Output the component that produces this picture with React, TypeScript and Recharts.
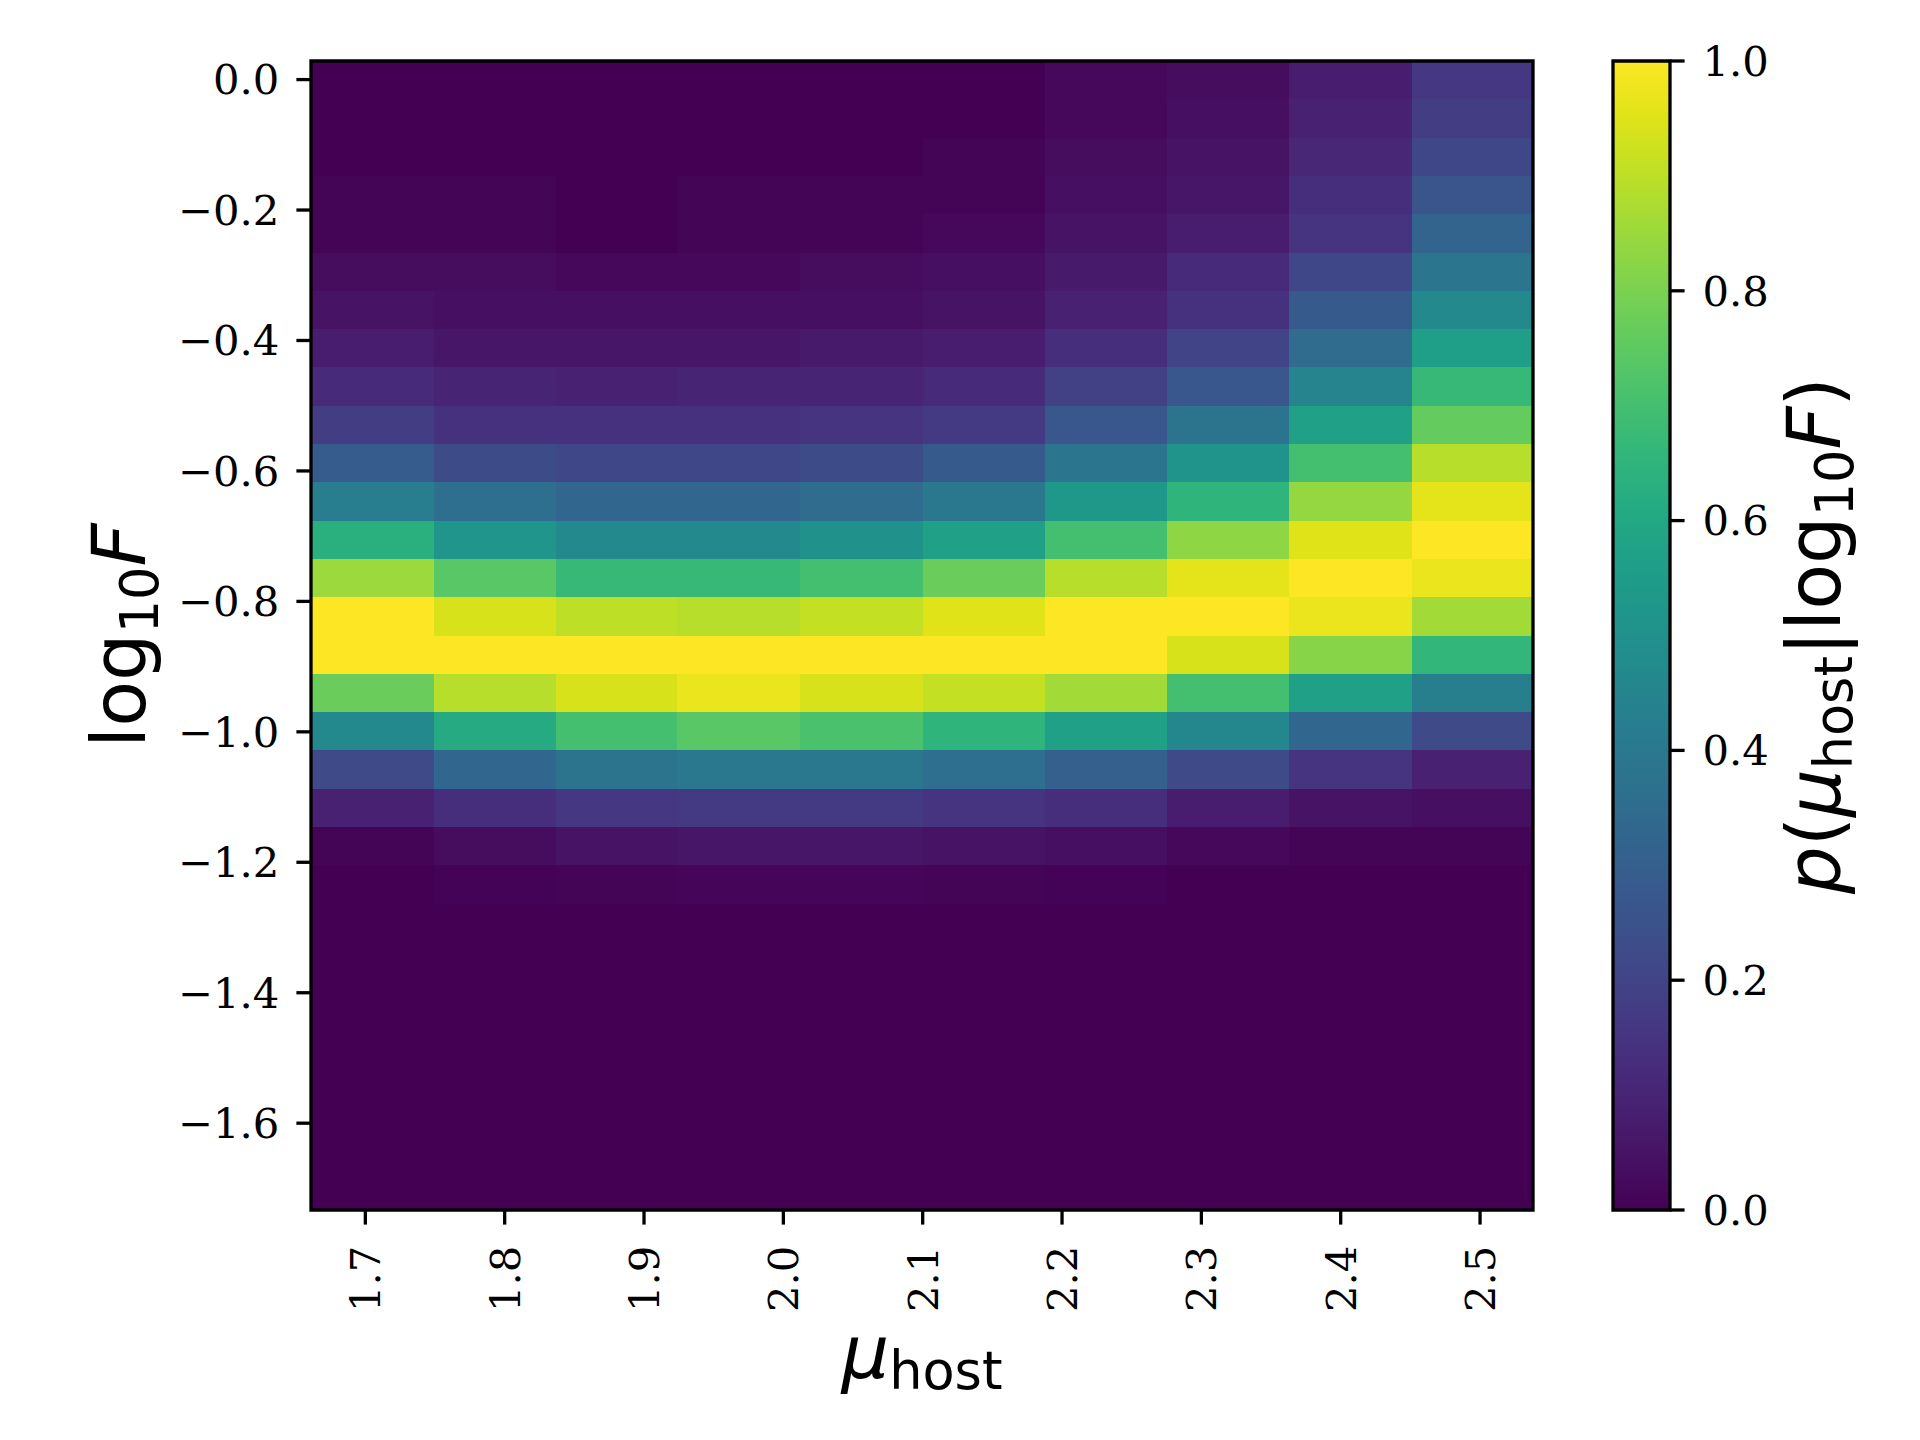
import { ScatterChart, Scatter, XAxis, YAxis, ReferenceArea } from "recharts";

// bin edges
const muEdges = [1.661, 1.749, 1.837, 1.924, 2.012, 2.1, 2.188, 2.275, 2.363, 2.451, 2.538];
const logFEdges = [
  0.0285, -0.0302, -0.0889, -0.1477, -0.2064, -0.2651, -0.3238, -0.3825, -0.4413, -0.5,
  -0.5587, -0.6174, -0.6761, -0.7349, -0.7936, -0.8523, -0.911, -0.9697, -1.0285, -1.0872,
  -1.1459, -1.2046, -1.2633, -1.3221, -1.3808, -1.4395, -1.4982, -1.5569, -1.6157, -1.6744,
  -1.7331,
];

// p(mu_host | log10 F), rows from top (highest log10F) to bottom
const density = [
  [0.0, 0.0, 0.0, 0.0, 0.0, 0.0, 0.02, 0.03, 0.08, 0.16],
  [0.0, 0.0, 0.0, 0.0, 0.0, 0.0, 0.02, 0.04, 0.09, 0.18],
  [0.0, 0.0, 0.0, 0.0, 0.0, 0.01, 0.03, 0.05, 0.11, 0.21],
  [0.01, 0.01, 0.0, 0.01, 0.01, 0.01, 0.04, 0.06, 0.13, 0.26],
  [0.01, 0.01, 0.0, 0.01, 0.01, 0.02, 0.05, 0.08, 0.15, 0.32],
  [0.03, 0.03, 0.02, 0.02, 0.03, 0.04, 0.07, 0.12, 0.21, 0.39],
  [0.05, 0.04, 0.04, 0.04, 0.04, 0.05, 0.09, 0.14, 0.28, 0.47],
  [0.08, 0.06, 0.06, 0.06, 0.07, 0.08, 0.13, 0.2, 0.35, 0.56],
  [0.12, 0.1, 0.09, 0.1, 0.1, 0.12, 0.19, 0.27, 0.45, 0.67],
  [0.18, 0.14, 0.14, 0.14, 0.15, 0.17, 0.27, 0.38, 0.57, 0.76],
  [0.29, 0.23, 0.21, 0.21, 0.23, 0.28, 0.39, 0.51, 0.7, 0.89],
  [0.42, 0.36, 0.33, 0.33, 0.35, 0.4, 0.53, 0.65, 0.84, 0.96],
  [0.63, 0.52, 0.47, 0.47, 0.5, 0.57, 0.7, 0.83, 0.95, 1.0],
  [0.85, 0.74, 0.67, 0.67, 0.7, 0.77, 0.89, 0.96, 1.0, 0.97],
  [1.0, 0.94, 0.9, 0.89, 0.91, 0.95, 1.0, 1.0, 0.97, 0.86],
  [1.0, 1.0, 1.0, 1.0, 1.0, 1.0, 1.0, 0.94, 0.82, 0.66],
  [0.77, 0.89, 0.94, 0.97, 0.94, 0.91, 0.86, 0.7, 0.57, 0.43],
  [0.47, 0.61, 0.7, 0.74, 0.71, 0.65, 0.57, 0.46, 0.33, 0.22],
  [0.22, 0.33, 0.38, 0.4, 0.4, 0.36, 0.3, 0.22, 0.15, 0.09],
  [0.09, 0.13, 0.16, 0.17, 0.17, 0.15, 0.13, 0.08, 0.05, 0.04],
  [0.01, 0.03, 0.05, 0.06, 0.06, 0.05, 0.04, 0.02, 0.01, 0.01],
  [0.0, 0.005, 0.01, 0.015, 0.015, 0.01, 0.005, 0.0, 0.0, 0.0],
  [0, 0, 0, 0, 0, 0, 0, 0, 0, 0],
  [0, 0, 0, 0, 0, 0, 0, 0, 0, 0],
  [0, 0, 0, 0, 0, 0, 0, 0, 0, 0],
  [0, 0, 0, 0, 0, 0, 0, 0, 0, 0],
  [0, 0, 0, 0, 0, 0, 0, 0, 0, 0],
  [0, 0, 0, 0, 0, 0, 0, 0, 0, 0],
  [0, 0, 0, 0, 0, 0, 0, 0, 0, 0],
  [0, 0, 0, 0, 0, 0, 0, 0, 0, 0],
];

const xTicks = [1.7, 1.8, 1.9, 2.0, 2.1, 2.2, 2.3, 2.4, 2.5];
const yTicks = [0, -0.2, -0.4, -0.6, -0.8, -1.0, -1.2, -1.4, -1.6];
const cbarTicks = [0, 0.2, 0.4, 0.6, 0.8, 1.0];

const viridisStops = [
  "#440154", "#471365", "#482475", "#463480", "#414487", "#3b528b", "#355f8d",
  "#2f6c8e", "#2a788e", "#25848e", "#21918c", "#1e9c89", "#22a884", "#2fb47c",
  "#44bf70", "#5ec962", "#7ad151", "#9bd93c", "#bddf26", "#dfe318", "#fde725",
];

const hexToRgb = (h: string) => [1, 3, 5].map((i) => parseInt(h.slice(i, i + 2), 16));

const viridis = (v: number) => {
  const t = Math.min(1, Math.max(0, v)) * (viridisStops.length - 1);
  const i = Math.min(Math.floor(t), viridisStops.length - 2);
  const f = t - i;
  const a = hexToRgb(viridisStops[i]);
  const b = hexToRgb(viridisStops[i + 1]);
  const c = a.map((ai, k) => Math.round(ai + (b[k] - ai) * f));
  return `rgb(${c[0]},${c[1]},${c[2]})`;
};

const SERIF = "'DejaVu Serif', serif";
const SANS = "'DejaVu Sans', sans-serif";
const TICK_FONT = 41.7;
const LABEL_FONT = 75;
const SUB_FONT = 52.5;
const LW = 3.3;

const fmtSigned = (v: number) => (v < 0 ? "\u2212" : "") + Math.abs(v).toFixed(1);

const xMin = muEdges[0];
const xMax = muEdges[muEdges.length - 1];
const yMax = logFEdges[0];
const yMin = logFEdges[logFEdges.length - 1];

// cell centres, so the chart has a series to size its axes from
const cellCentres = density.flatMap((row, r) =>
  row.map((v, c) => ({
    x: (muEdges[c] + muEdges[c + 1]) / 2,
    y: (logFEdges[r] + logFEdges[r + 1]) / 2,
    v,
  }))
);
const cbarRange = [
  { x: 0, y: 0 },
  { x: 1, y: 1 },
];

const NoMark = () => <g />;

const XTick = ({ x, y, payload }: any) => (
  <g transform={`translate(${x},${y})`}>
    <text
      transform="rotate(-90)"
      textAnchor="end"
      dy="0.36em"
      fill="#000"
      fontFamily={SERIF}
      fontSize={TICK_FONT}
    >
      {Number(payload.value).toFixed(1)}
    </text>
  </g>
);

const XTitle = ({ viewBox }: any) => {
  const { x, y, width } = viewBox;
  return (
    <text x={x + width / 2} y={y + 168} textAnchor="middle" fontFamily={SANS} fontSize={LABEL_FONT} fill="#000">
      <tspan fontStyle="italic">μ</tspan>
      <tspan fontSize={SUB_FONT} dy={11}>host</tspan>
    </text>
  );
};

const YTitle = ({ viewBox }: any) => {
  const { x, y, height } = viewBox;
  return (
    <text
      transform={`translate(${x + 34},${y + height / 2}) rotate(-90)`}
      textAnchor="middle"
      fontFamily={SANS}
      fontSize={LABEL_FONT}
      fill="#000"
    >
      log
      <tspan fontSize={SUB_FONT} dy={13}>10</tspan>
      <tspan fontStyle="italic" dy={-13}>F</tspan>
    </text>
  );
};

const CbarTitle = ({ viewBox }: any) => {
  const { x, y, height } = viewBox;
  return (
    <text
      transform={`translate(${x + 170},${y + height / 2}) rotate(-90)`}
      textAnchor="middle"
      fontFamily={SANS}
      fontSize={LABEL_FONT}
      fill="#000"
    >
      <tspan fontStyle="italic">p</tspan>
      (<tspan fontStyle="italic">μ</tspan>
      <tspan fontSize={SUB_FONT} dy={12}>host</tspan>
      <tspan dy={-12}>|log</tspan>
      <tspan fontSize={SUB_FONT} dy={13}>10</tspan>
      <tspan fontStyle="italic" dy={-13}>F</tspan>)
    </text>
  );
};

const Heatmap = () => (
  <ScatterChart width={1600} height={1440} margin={{ top: 61, right: 67, bottom: 100, left: 111 }}>
    <XAxis
      type="number"
      dataKey="x"
      domain={[xMin, xMax]}
      allowDataOverflow
      ticks={xTicks}
      interval={0}
      height={130}
      axisLine={false}
      tickLine={{ stroke: "#000", strokeWidth: LW }}
      tickSize={14.6}
      tickMargin={21}
      tick={<XTick />}
      label={<XTitle />}
    />
    <YAxis
      type="number"
      dataKey="y"
      domain={[yMin, yMax]}
      allowDataOverflow
      ticks={yTicks}
      interval={0}
      width={200}
      axisLine={false}
      tickLine={{ stroke: "#000", strokeWidth: LW }}
      tickSize={14.6}
      tickMargin={17}
      tickFormatter={fmtSigned}
      tick={{ fill: "#000", fontFamily: SERIF, fontSize: TICK_FONT }}
      label={<YTitle />}
    />
    <Scatter data={cellCentres} shape={<NoMark />} isAnimationActive={false} />
    {density.map((row, r) =>
      row.map((v, c) => (
        <ReferenceArea
          key={`${r}-${c}`}
          x1={muEdges[c]}
          x2={muEdges[c + 1]}
          y1={logFEdges[r + 1]}
          y2={logFEdges[r]}
          fill={viridis(v)}
          fillOpacity={1}
          stroke="none"
          shapeRendering="crispEdges"
          ifOverflow="visible"
        />
      ))
    )}
    <ReferenceArea
      x1={xMin}
      x2={xMax}
      y1={yMin}
      y2={yMax}
      fill="none"
      fillOpacity={0}
      stroke="#000"
      strokeWidth={LW}
      ifOverflow="visible"
    />
  </ScatterChart>
);

const Colorbar = () => (
  <ScatterChart width={420} height={1440} margin={{ top: 61, right: 0, bottom: 230, left: 113 }}>
    <defs>
      <linearGradient id="viridisBar" x1="0" y1="1" x2="0" y2="0">
        {viridisStops.map((c, i) => (
          <stop key={c} offset={i / (viridisStops.length - 1)} stopColor={c} />
        ))}
      </linearGradient>
    </defs>
    <XAxis type="number" dataKey="x" domain={[0, 1]} allowDataOverflow hide />
    <YAxis
      type="number"
      dataKey="y"
      orientation="right"
      domain={[0, 1]}
      allowDataOverflow
      ticks={cbarTicks}
      interval={0}
      width={250}
      axisLine={false}
      tickLine={{ stroke: "#000", strokeWidth: LW }}
      tickSize={14.6}
      tickMargin={18}
      tickFormatter={(v: number) => v.toFixed(1)}
      tick={{ fill: "#000", fontFamily: SERIF, fontSize: TICK_FONT, textAnchor: "start" }}
      label={<CbarTitle />}
    />
    <Scatter data={cbarRange} shape={<NoMark />} isAnimationActive={false} />
    <ReferenceArea
      x1={0}
      x2={1}
      y1={0}
      y2={1}
      fill="url(#viridisBar)"
      fillOpacity={1}
      stroke="#000"
      strokeWidth={LW}
      ifOverflow="visible"
    />
  </ScatterChart>
);

export default function App() {
  return (
    <div style={{ position: "absolute", left: 0, top: 0, width: 1920, height: 1440, background: "#fff" }}>
      <div style={{ position: "absolute", left: 0, top: 0 }}>
        <Heatmap />
      </div>
      <div style={{ position: "absolute", left: 1500, top: 0 }}>
        <Colorbar />
      </div>
    </div>
  );
}
